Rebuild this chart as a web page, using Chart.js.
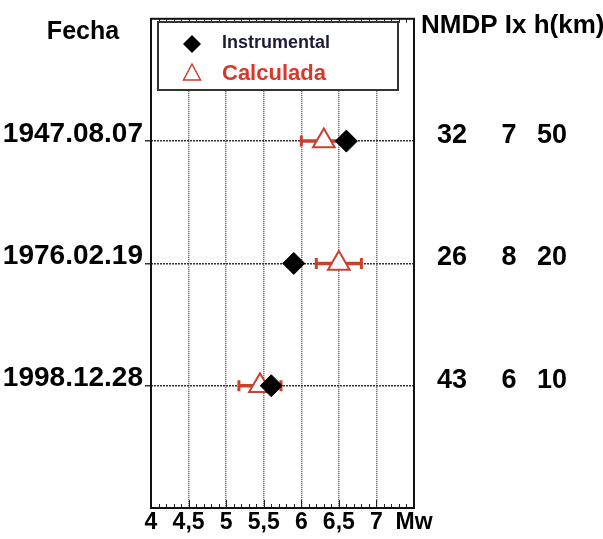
<!DOCTYPE html>
<html>
<head>
<meta charset="utf-8">
<script src="https://cdn.jsdelivr.net/npm/chart.js@4.4.1/dist/chart.umd.min.js"></script>
<style>
  html, body { margin: 0; background: #fff; }
</style>
</head>
<body>
<canvas id="grafico" width="603" height="539"></canvas>
<script>
const fechas = ['1947.08.07', '1976.02.19', '1998.12.28']
const filas = [1, 2, 3]
const instrumental = [6.6, 5.9, 5.6]
const calculada = [6.3, 6.5, 5.45]
const calcMin = [6.0, 6.2, 5.17]
const calcMax = [6.6, 6.8, 5.73]
const nmdp = [32, 26, 43]
const ix = [7, 8, 6]
const hKm = [50, 20, 10]
const xTickLabels = { 4: '4', 4.5: '4,5', 5: '5', 5.5: '5,5', 6: '6', 6.5: '6,5', 7: '7', 7.5: 'Mw' }

const FONT = 'Liberation Sans, Arial, sans-serif'
const ROJO = '#c9402e'

// marco, ticks menores, leyenda y tabla de la derecha
const extras = {
  id: 'extras',
  afterDraw(chart) {
    const { ctx, chartArea: a, scales } = chart
    const xs = scales.x
    const ys = scales.y
    ctx.save()

    // ticks menores arriba y abajo
    ctx.strokeStyle = '#222'
    ctx.lineWidth = 1
    for (let k = 0; k <= 35; k++) {
      const px = Math.round(xs.getPixelForValue(4 + k * 0.1)) + 0.5
      const len = k % 5 === 0 ? 8 : 4
      ctx.beginPath()
      ctx.moveTo(px, a.top)
      ctx.lineTo(px, a.top + len)
      ctx.moveTo(px, a.bottom)
      ctx.lineTo(px, a.bottom - len)
      ctx.stroke()
    }

    // leyenda
    const lx = 158, ly = 22, lw = 240, lh = 68
    ctx.fillStyle = '#fff'
    ctx.fillRect(lx, ly, lw, lh)
    ctx.strokeStyle = '#333'
    ctx.lineWidth = 2
    ctx.strokeRect(lx, ly, lw, lh)

    ctx.fillStyle = '#000'
    ctx.beginPath()
    ctx.moveTo(192, 35)
    ctx.lineTo(201, 44)
    ctx.lineTo(192, 53)
    ctx.lineTo(183, 44)
    ctx.closePath()
    ctx.fill()

    ctx.strokeStyle = ROJO
    ctx.lineWidth = 1.5
    ctx.beginPath()
    ctx.moveTo(192, 64)
    ctx.lineTo(200.5, 80)
    ctx.lineTo(183.5, 80)
    ctx.closePath()
    ctx.stroke()

    ctx.textAlign = 'left'
    ctx.textBaseline = 'alphabetic'
    ctx.fillStyle = '#1c1c3a'
    ctx.font = 'bold 18px ' + FONT
    ctx.fillText('Instrumental', 222, 48)
    ctx.fillStyle = '#d8372a'
    ctx.font = 'bold 22px ' + FONT
    ctx.fillText('Calculada', 222, 80)

    // marco
    ctx.strokeStyle = '#111'
    ctx.lineWidth = 2
    ctx.strokeRect(a.left, a.top, a.right - a.left, a.bottom - a.top)

    // encabezados
    ctx.fillStyle = '#000'
    ctx.font = 'bold 25px ' + FONT
    ctx.textAlign = 'center'
    ctx.fillText('Fecha', 83, 39)
    ctx.textAlign = 'left'
    ctx.font = 'bold 26px ' + FONT
    ctx.fillText('NMDP Ix h(km)', 421, 33)

    // tabla
    ctx.textAlign = 'center'
    ctx.font = 'bold 27px ' + FONT
    filas.forEach((f, i) => {
      const py = ys.getPixelForValue(f) + 2
      ctx.fillText(String(nmdp[i]), 452, py)
      ctx.fillText(String(ix[i]), 509, py)
      ctx.fillText(String(hKm[i]), 552, py)
    })
    ctx.restore()
  },
}

const barras = filas.map((f, i) => ({
  type: 'line',
  data: [{ x: calcMin[i], y: f }, { x: calcMax[i], y: f }],
  borderColor: ROJO,
  borderWidth: 3.5,
  pointStyle: 'line',
  pointRotation: 90,
  pointRadius: 5.5,
  pointBorderWidth: 3,
  pointBorderColor: ROJO,
  order: 3,
}))

const ctx = document.getElementById('grafico').getContext('2d')
new Chart(ctx, {
  type: 'scatter',
  data: {
    datasets: [
      {
        label: 'Instrumental',
        data: filas.map((f, i) => ({ x: instrumental[i], y: f })),
        pointStyle: 'rectRot',
        pointRadius: 11,
        backgroundColor: '#000',
        borderColor: '#000',
        borderWidth: 1,
        order: 1,
      },
      {
        label: 'Calculada',
        data: filas.map((f, i) => ({ x: calculada[i], y: f })),
        pointStyle: 'triangle',
        pointRadius: 12.5,
        backgroundColor: '#fff',
        borderColor: ROJO,
        borderWidth: 2,
        order: 2,
      },
      ...barras,
    ],
  },
  options: {
    responsive: false,
    animation: false,
    layout: { padding: { top: 12, right: 189, left: 0, bottom: 0 } },
    plugins: { legend: { display: false }, tooltip: { enabled: false } },
    scales: {
      x: {
        type: 'linear',
        min: 4,
        max: 7.5,
        afterFit: (s) => { s.height = 31 },
        ticks: {
          stepSize: 0.5,
          autoSkip: false,
          maxRotation: 0,
          padding: 1,
          color: '#000',
          font: { family: FONT, size: 23, weight: 'bold' },
          callback: (v) => xTickLabels[v] ?? '',
        },
        grid: {
          drawTicks: false,
          color: (c) => (c.tick.value > 4 && c.tick.value < 7.5 ? '#555' : 'rgba(0,0,0,0)'),
          lineWidth: 1.5,
        },
        border: { display: false, dash: [1, 1] },
      },
      y: {
        type: 'linear',
        min: 0,
        max: 4,
        reverse: true,
        afterFit: (s) => { s.width = 151 },
        ticks: {
          stepSize: 1,
          padding: 2,
          labelOffset: -7,
          color: '#000',
          font: { family: FONT, size: 28, weight: 'bold' },
          callback: (v) => fechas[v - 1] ?? '',
        },
        grid: {
          tickLength: 6,
          color: (c) => (c.tick.value >= 1 && c.tick.value <= 3 ? '#333' : 'rgba(0,0,0,0)'),
          lineWidth: 1.5,
        },
        border: { display: false, dash: [2, 1] },
      },
    },
  },
  plugins: [extras],
})
</script>
</body>
</html>
